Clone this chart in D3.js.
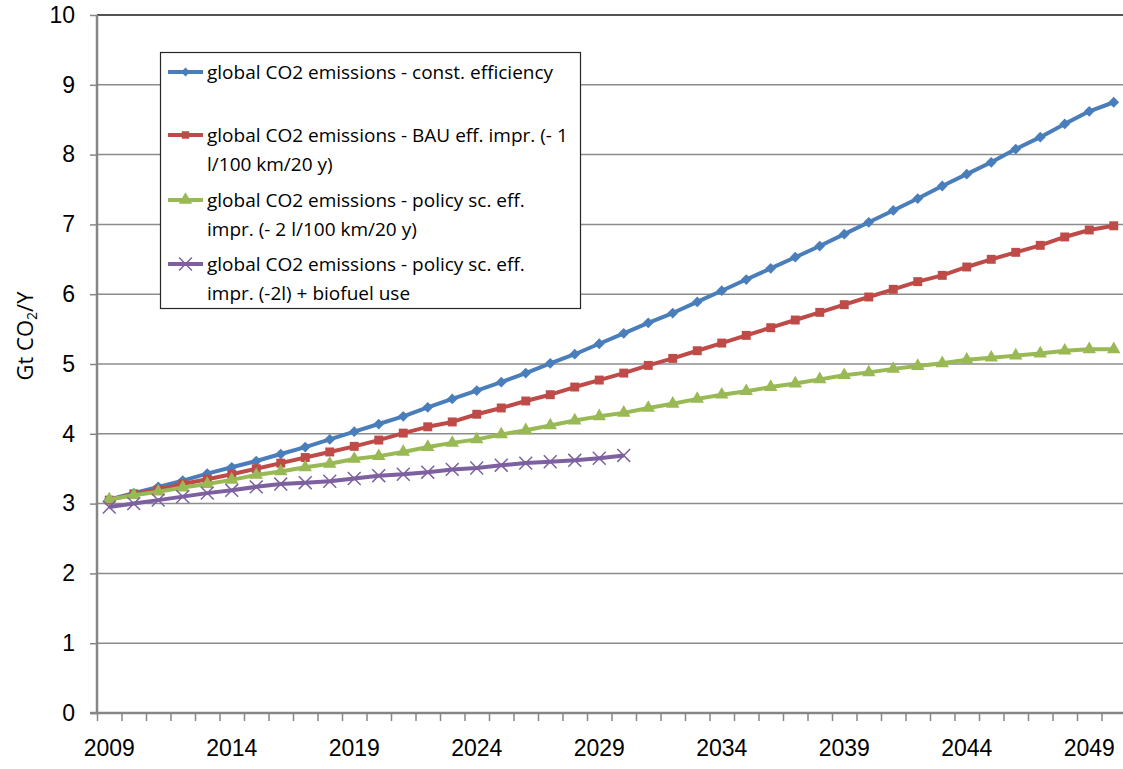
<!DOCTYPE html>
<html>
<head>
<meta charset="utf-8">
<script src="https://cdn.jsdelivr.net/npm/d3@7"></script>
<style>
  body { margin: 0; background: #fff; }
  svg { display: block; font-family: "Open Sans", "Noto Sans", sans-serif; }
  .axis text { fill: #000; }
</style>
</head>
<body>
<div id="chart"></div>
<script>
'use strict';
(function() {
  // Data
  var years = d3.range(2009, 2051);
  var labelYears = [2009, 2014, 2019, 2024, 2029, 2034, 2039, 2044, 2049];
  var yTicks = [0, 1, 2, 3, 4, 5, 6, 7, 8, 9, 10];

  var constEfficiency = [3.06, 3.15, 3.24, 3.33, 3.43, 3.52, 3.61, 3.71, 3.81, 3.92, 4.03, 4.14, 4.25, 4.38,
    4.50, 4.62, 4.74, 4.87, 5.01, 5.14, 5.29, 5.44, 5.59, 5.73, 5.89, 6.05, 6.21, 6.37, 6.53, 6.69,
    6.86, 7.03, 7.20, 7.37, 7.55, 7.72, 7.89, 8.08, 8.25, 8.44, 8.62, 8.75];
  var bauImpr = [3.05, 3.14, 3.20, 3.28, 3.35, 3.42, 3.50, 3.58, 3.66, 3.74, 3.82, 3.91, 4.01, 4.10,
    4.17, 4.28, 4.37, 4.47, 4.56, 4.67, 4.77, 4.87, 4.98, 5.08, 5.19, 5.30, 5.41, 5.52, 5.63, 5.74,
    5.85, 5.96, 6.07, 6.18, 6.27, 6.39, 6.50, 6.60, 6.70, 6.82, 6.92, 6.98];
  var policyImpr = [3.06, 3.12, 3.17, 3.23, 3.28, 3.34, 3.41, 3.46, 3.52, 3.57, 3.64, 3.68, 3.74, 3.81,
    3.87, 3.92, 3.99, 4.05, 4.12, 4.19, 4.25, 4.30, 4.37, 4.43, 4.50, 4.56, 4.61, 4.67, 4.72, 4.78,
    4.84, 4.88, 4.93, 4.97, 5.01, 5.06, 5.09, 5.12, 5.15, 5.19, 5.21, 5.21];
  var policyBiofuel = [2.95, 3.00, 3.05, 3.10, 3.15, 3.19, 3.24, 3.28, 3.30, 3.32, 3.36, 3.40, 3.42, 3.45,
    3.49, 3.51, 3.55, 3.58, 3.60, 3.62, 3.65, 3.69];

  var series = [
    {name: ["global CO2 emissions - const. efficiency"], values: constEfficiency, color: "#4A7EBB", marker: "diamond"},
    {name: ["global CO2 emissions - BAU eff. impr. (- 1", "l/100 km/20 y)"], values: bauImpr, color: "#BE4B48", marker: "square"},
    {name: ["global CO2 emissions - policy sc. eff.", "impr. (- 2 l/100 km/20 y)"], values: policyImpr, color: "#98B954", marker: "triangle"},
    {name: ["global CO2 emissions - policy sc. eff.", "impr. (-2l) + biofuel use"], values: policyBiofuel, color: "#7D60A0", marker: "x"}
  ];

  // Size
  var w = 1123;
  var h = 769;
  var left = 97;
  var top = 15;
  var bottom = 713;
  var right = 1126;

  var svg = d3.select("#chart")
    .append("svg")
    .attr("width", w)
    .attr("height", h);

  // Scales
  var xScale = d3.scaleBand()
    .domain(years)
    .range([left, right])
    .padding(0);

  var xBound = d3.scaleLinear()
    .domain([0, years.length])
    .range([left, right]);

  var yScale = d3.scaleLinear()
    .domain([0, 10])
    .range([bottom, top]);

  var cx = function(year) { return xScale(year) + xScale.bandwidth() / 2; };

  // Gridlines
  svg.append("g")
    .attr("class", "grid")
    .selectAll("line")
    .data(yTicks.slice(1, -1))
    .enter()
    .append("line")
    .attr("x1", left)
    .attr("x2", w)
    .attr("y1", function(d) { return yScale(d); })
    .attr("y2", function(d) { return yScale(d); })
    .attr("stroke", "#8c8c8c")
    .attr("stroke-width", 1.5);

  // Top border
  svg.append("line")
    .attr("x1", left)
    .attr("x2", w)
    .attr("y1", yScale(10))
    .attr("y2", yScale(10))
    .attr("stroke", "#1a1a1a")
    .attr("stroke-width", 1.5);

  // Y axis
  var yAxis = d3.axisLeft(yScale)
    .tickValues(yTicks)
    .tickSize(7)
    .tickPadding(15);

  var gy = svg.append("g")
    .attr("class", "axis")
    .attr("transform", "translate(" + left + ",0)")
    .call(yAxis);
  gy.selectAll("line").attr("stroke", "#868686").attr("stroke-width", 1.5);
  gy.select(".domain").attr("stroke", "#868686").attr("stroke-width", 2.5).attr("d", "M-7," + bottom + "H0V" + top);
  gy.selectAll("text").attr("font-size", "23px");

  // X axis tick marks on category boundaries
  var xTickAxis = d3.axisBottom(xBound)
    .tickValues(d3.range(0, years.length + 1))
    .tickSize(8)
    .tickFormat("");

  var gxt = svg.append("g")
    .attr("class", "axis")
    .attr("transform", "translate(0," + bottom + ")")
    .call(xTickAxis);
  gxt.selectAll("line").attr("stroke", "#868686").attr("stroke-width", 1.5);
  gxt.select(".domain").attr("stroke", "#868686").attr("stroke-width", 2.5).attr("d", "M" + left + ",0H" + right);

  // X axis labels
  var xAxis = d3.axisBottom(xScale)
    .tickValues(labelYears)
    .tickSize(0)
    .tickPadding(27);

  var gx = svg.append("g")
    .attr("class", "axis")
    .attr("transform", "translate(0," + bottom + ")")
    .call(xAxis);
  gx.select(".domain").remove();
  gx.selectAll("text").attr("font-size", "23px");

  // Y axis title
  var title = svg.append("text")
    .attr("transform", "translate(33,336) rotate(-90)")
    .attr("text-anchor", "middle")
    .attr("font-size", "22px")
    .attr("fill", "#000");
  title.append("tspan").text("Gt CO");
  title.append("tspan").text("2").attr("font-size", "14px").attr("dy", 4);
  title.append("tspan").text("/Y").attr("dy", -4);

  // Lines and markers
  var line = d3.line()
    .x(function(d, i) { return cx(years[i]); })
    .y(function(d) { return yScale(d); });

  var addMarker = function(m, s, scale) {
    if (s.marker === "diamond") {
      m.append("path")
        .attr("d", d3.symbol(d3.symbolSquare, 58 * scale)())
        .attr("transform", "rotate(45)")
        .attr("fill", s.color);
    } else if (s.marker === "square") {
      m.append("path")
        .attr("d", d3.symbol(d3.symbolSquare, 80 * scale)())
        .attr("fill", s.color);
    } else if (s.marker === "triangle") {
      m.append("path")
        .attr("d", d3.symbol(d3.symbolTriangle, 78)())
        .attr("fill", s.color);
    } else {
      m.append("path")
        .attr("d", d3.symbol(d3.symbolX, 110)())
        .attr("fill", "none")
        .attr("stroke", s.color)
        .attr("stroke-width", 1.5);
    }
  };

  var plot = svg.append("g").attr("class", "data");

  series.forEach(function(s) {
    var g = plot.append("g");
    g.append("path")
      .attr("d", line(s.values))
      .attr("fill", "none")
      .attr("stroke", s.color)
      .attr("stroke-width", 4)
      .attr("stroke-linejoin", "round");

    g.selectAll("g.mark")
      .data(s.values)
      .enter()
      .append("g")
      .attr("class", "mark")
      .attr("transform", function(d, i) {
        return "translate(" + cx(years[i]) + "," + yScale(d) + ")";
      })
      .each(function() {
        addMarker(d3.select(this), s, 1);
      });
  });

  // Legend
  var legend = svg.append("g").attr("class", "legend");
  legend.append("rect")
    .attr("x", 160.5)
    .attr("y", 52.5)
    .attr("width", 420)
    .attr("height", 256)
    .attr("fill", "#fff")
    .attr("stroke", "#262626")
    .attr("stroke-width", 1.2);

  var rowY = [72, 135, 200, 264];
  series.forEach(function(s, i) {
    var g = legend.append("g").attr("transform", "translate(0," + rowY[i] + ")");
    g.append("line")
      .attr("x1", 168)
      .attr("x2", 203)
      .attr("stroke", s.color)
      .attr("stroke-width", 4);
    addMarker(g.append("g").attr("transform", "translate(185.5,0)"), s, 0.7);
    g.selectAll("text")
      .data(s.name)
      .enter()
      .append("text")
      .attr("x", 207)
      .attr("y", function(d, j) { return j * 29; })
      .attr("dy", "0.35em")
      .attr("font-size", "19px")
      .attr("fill", "#000")
      .text(function(d) { return d; });
  });
})();
</script>
</body>
</html>
